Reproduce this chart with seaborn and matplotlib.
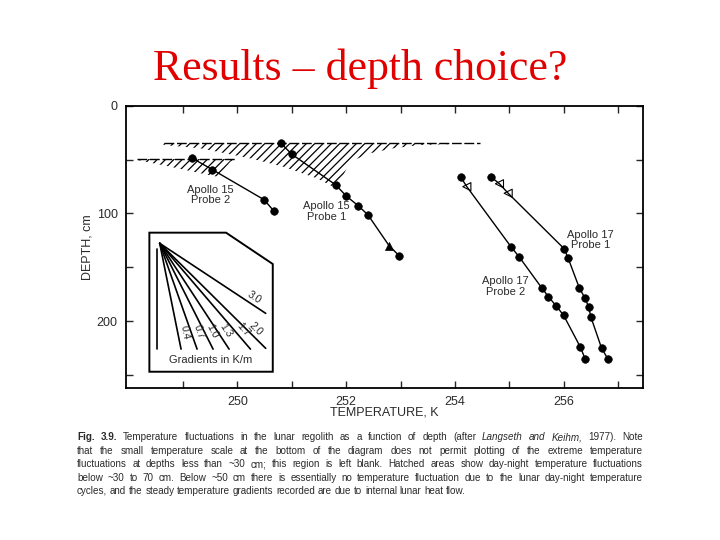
import numpy as np
import pandas as pd
import matplotlib
matplotlib.use("Agg")
import matplotlib.pyplot as plt
import seaborn as sns

# Temperature (K) and depth (cm)
a15p2_temp = [249.17, 249.54, 250.49, 250.67]
a15p2_depth = [48.8, 59.4, 87.3, 97.8]
a15p2_mark = ['o', 'o', 'o', 'o']

a15p1_temp = [250.80, 251.00, 251.81, 252.00, 252.22, 252.40, 252.79, 252.98]
a15p1_depth = [34.9, 45.1, 73.6, 83.8, 92.8, 101.3, 130.0, 139.6]
a15p1_mark = ['o', 'o', 'o', 'o', 'o', 'o', '^', 'o']

a17p2_temp = [254.11, 254.22, 255.04, 255.18, 255.60, 255.72, 255.86, 256.00, 256.31, 256.40]
a17p2_depth = [66.5, 75.2, 131.5, 140.2, 169.3, 177.3, 185.7, 194.6, 224.3, 235.5]
a17p2_mark = ['o', 'tri', 'o', 'o', 'o', 'o', 'o', 'o', 'o', 'o']

a17p1_temp = [254.66, 254.82, 254.98, 256.01, 256.08, 256.29, 256.39, 256.46, 256.50, 256.70, 256.82]
a17p1_depth = [65.9, 72.5, 81.3, 132.8, 141.1, 169.3, 178.3, 186.6, 195.9, 225.3, 235.5]
a17p1_mark = ['o', 'tri', 'tri', 'o', 'o', 'o', 'o', 'o', 'o', 'o', 'o']

# hatched day-night fluctuation zones (outline, T, depth)
zone_a_temp = [248.15, 248.70, 249.19, 249.56, 249.71, 249.77, 249.87, 249.99]
zone_a_depth = [50.4, 56.0, 61.3, 65.3, 66.5, 58.1, 52.0, 49.5]
zone_a_top = 49.5

zone_b_temp = [248.64, 249.32, 250.23, 250.84, 251.46, 251.76, 251.92, 252.07, 252.44, 252.86, 253.36, 254.46]
zone_b_depth = [36.5, 39.6, 48.8, 56.6, 67.4, 75.2, 67.4, 52.0, 44.2, 39.6, 36.5, 34.9]
zone_b_top = 34.9

# inset: gradient fan
gradients = [0, 0.4, 0.7, 1.0, 1.3, 1.7, 2.0, 3.0]
gradient_labels = ['', '0.4', '0.7', '1.0', '1.3', '1.7', '2.0', '3.0']

caption_lines = [
    [("Fig. 3.9.", 'bold', 'normal'),
     ("Temperature fluctuations in the lunar regolith as a function of depth (after", 'normal', 'normal'),
     ("Langseth and Keihm,", 'normal', 'italic'),
     ("1977). Note", 'normal', 'normal')],
    [("that the small temperature scale at the bottom of the diagram does not permit plotting of the extreme temperature", 'normal', 'normal')],
    [("fluctuations at depths less than ~30 cm; this region is left blank. Hatched areas show day-night temperature fluctuations", 'normal', 'normal')],
    [("below ~30 to 70 cm. Below ~50 cm there is essentially no temperature fluctuation due to the lunar day-night temperature", 'normal', 'normal')],
    [("cycles, and the steady temperature gradients recorded are due to internal lunar heat flow.", 'normal', 'normal')],
]

sns.set_style("ticks")
plt.rcParams['font.family'] = ['Liberation Sans', 'DejaVu Sans']
plt.rcParams['hatch.color'] = 'black'
plt.rcParams['hatch.linewidth'] = 0.9

ink = '#2a2a2a'

fig = plt.figure(figsize=(7.2, 5.4), dpi=100)
fig.patch.set_facecolor('white')
ax = fig.add_axes([0.175, 0.2815, 0.718, 0.5228])

probes = pd.concat([
    pd.DataFrame({'probe': 'A15 P2', 'temp': a15p2_temp, 'depth': a15p2_depth, 'mark': a15p2_mark}),
    pd.DataFrame({'probe': 'A15 P1', 'temp': a15p1_temp, 'depth': a15p1_depth, 'mark': a15p1_mark}),
    pd.DataFrame({'probe': 'A17 P2', 'temp': a17p2_temp, 'depth': a17p2_depth, 'mark': a17p2_mark}),
    pd.DataFrame({'probe': 'A17 P1', 'temp': a17p1_temp, 'depth': a17p1_depth, 'mark': a17p1_mark}),
], ignore_index=True)

# hatched zones
for zt, zd, top in [(zone_a_temp, zone_a_depth, zone_a_top), (zone_b_temp, zone_b_depth, zone_b_top)]:
    ax.fill(zt + [zt[0]], zd + [top], facecolor='none', edgecolor='black',
            hatch='////', linewidth=0, zorder=1)
    ax.plot([zt[0], zt[-1]], [top, top], color='black', lw=1.0, ls=(0, (7, 2)), zorder=2)

sns.lineplot(data=probes, x='temp', y='depth', units='probe', estimator=None,
             sort=False, color='black', lw=1.0, ax=ax, zorder=3)
sns.scatterplot(data=probes[probes['mark'] == 'o'], x='temp', y='depth', marker='o',
                s=30, color='black', edgecolor='black', ax=ax, zorder=4)
sns.scatterplot(data=probes[probes['mark'] == '^'], x='temp', y='depth', marker='^',
                s=34, color='black', edgecolor='black', ax=ax, zorder=4)
sns.scatterplot(data=probes[probes['mark'] == 'tri'], x='temp', y='depth', marker='<',
                s=34, facecolor='none', edgecolor='black', linewidth=0.8, ax=ax, zorder=4)

ax.set_xlim(247.95, 257.46)
ax.set_ylim(262.1, 0)

# inset box with gradient fan
box_t = [248.38, 249.79, 250.65, 250.65, 248.38, 248.38]
box_d = [117.9, 117.9, 147.0, 247.0, 247.0, 117.9]
ax.fill(box_t, box_d, facecolor='white', edgecolor='black', lw=1.4, zorder=5)

t0, d0 = 248.57, 127.8
d_end, t_end = 226.0, 250.52
for g, lab in zip(gradients, gradient_labels):
    if g == 0:
        t1, d1 = t0 - 0.05, d_end
        ax.plot([t1, t1], [d0 + 5, d1], color='black', lw=1.2, zorder=6)
        continue
    d1 = d_end
    t1 = t0 + g * (d1 - d0) / 100
    if t1 > t_end:
        t1 = t_end
        d1 = d0 + (t1 - t0) * 100 / g
    ax.plot([t0, t1], [d0, d1], color='black', lw=1.2, zorder=6)
    p0 = ax.transData.transform((t0, d0))
    p1 = ax.transData.transform((t1, d1))
    ang = np.degrees(np.arctan2(p1[1] - p0[1], p1[0] - p0[0]))
    f = 0.86
    tx, ty = t0 + f * (t1 - t0), d0 + f * (d1 - d0)
    nx, ny = -np.sin(np.radians(ang)), np.cos(np.radians(ang))
    ax.annotate(lab, (tx, ty), xytext=(5 * nx, 5 * ny), textcoords='offset points',
                rotation=ang, rotation_mode='anchor', ha='center', va='center',
                fontsize=7.5, color=ink, zorder=7)
ax.text(249.50, 236.5, 'Gradients in K/m', ha='center', va='center', fontsize=8, color=ink, zorder=7)

# probe labels
for t, d, lab in [(249.50, 83.0, 'Apollo 15\nProbe 2'), (251.64, 98.4, 'Apollo 15\nProbe 1'),
                  (256.50, 124.7, 'Apollo 17\nProbe 1'), (254.93, 168.0, 'Apollo 17\nProbe 2')]:
    ax.text(t, d, lab, ha='center', va='center', fontsize=8, color=ink, linespacing=1.1)

ax.set_xticks([250, 252, 254, 256])
ax.set_xticks([249, 251, 253, 255, 257], minor=True)
ax.set_yticks([0, 100, 200])
ax.set_yticks([50, 150, 250], minor=True)
ax.tick_params(which='both', direction='in', top=True, right=True, length=5, width=1,
               labelsize=9, labelcolor=ink, pad=6)
for sp in ax.spines.values():
    sp.set_linewidth(1.3)
    sp.set_color('black')
ax.set_xlabel('TEMPERATURE, K', fontsize=9, color=ink, labelpad=-1)
ax.set_ylabel('DEPTH, cm', fontsize=9, color=ink, labelpad=2)
ax.set_facecolor('white')

# title
fig.text(0.5, 0.872, 'Results \u2013 depth choice?', ha='center', va='center',
         fontsize=31.5, color='#e00000', family=['Liberation Serif', 'DejaVu Serif'])

# caption, justified between x=77 and x=643 px (last line left aligned)
renderer = fig.canvas.get_renderer()
cap_left, cap_right = 77.0, 643.0
cap_size = 7.1
probe_a = fig.text(0, 0, 'a a', fontsize=cap_size)
probe_b = fig.text(0, 0, 'aa', fontsize=cap_size)
space = probe_a.get_window_extent(renderer).width - probe_b.get_window_extent(renderer).width
probe_a.remove()
probe_b.remove()
for i, segs in enumerate(caption_lines):
    y = 1 - (437 + i * 13.6) / 540
    words = []
    for text, weight, style in segs:
        for w in text.split():
            words.append((w, weight, style))
    items = []
    for w, weight, style in words:
        t = fig.text(0, y, w, fontsize=cap_size, weight=weight, style=style,
                     color=ink, va='center', ha='left')
        items.append((t, t.get_window_extent(renderer).width))
    total = sum(wd for _, wd in items)
    if i < len(caption_lines) - 1:
        gap = (cap_right - cap_left - total) / (len(items) - 1)
    else:
        gap = space
    x = cap_left
    for t, wd in items:
        t.set_x(x / 720)
        x += wd + gap

fig.savefig('out.png', dpi=100)
